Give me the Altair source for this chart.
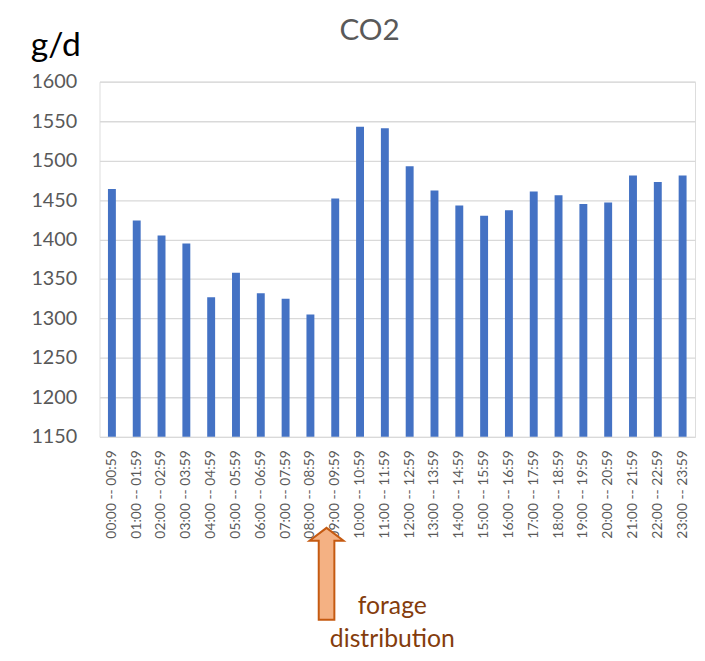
import altair as alt
import pandas as pd

hours = [
    "00:00 -- 00:59", "01:00 -- 01:59", "02:00 -- 02:59", "03:00 -- 03:59",
    "04:00 -- 04:59", "05:00 -- 05:59", "06:00 -- 06:59", "07:00 -- 07:59",
    "08:00 -- 08:59", "09:00 -- 09:59", "10:00 -- 10:59", "11:00 -- 11:59",
    "12:00 -- 12:59", "13:00 -- 13:59", "14:00 -- 14:59", "15:00 -- 15:59",
    "16:00 -- 16:59", "17:00 -- 17:59", "18:00 -- 18:59", "19:00 -- 19:59",
    "20:00 -- 20:59", "21:00 -- 21:59", "22:00 -- 22:59", "23:00 -- 23:59",
]
co2 = [1464, 1424, 1405, 1395, 1327, 1358, 1332, 1325, 1305, 1452, 1543, 1541,
       1493, 1462, 1443, 1430, 1437, 1461, 1456, 1445, 1447, 1481, 1473, 1481]
y_ticks = [1150, 1200, 1250, 1300, 1350, 1400, 1450, 1500, 1550, 1600]

# annotation placed at the 08:59 -> 09:00 boundary (forage distribution)
ann_hour = ["09:00 -- 09:59"]
ann_text = ["forage\ndistribution"]
chart_title = ["CO2"]

df = pd.DataFrame({"hour": hours, "co2": co2})
ann = pd.DataFrame({"hour": ann_hour, "label": ann_text})
ttl = pd.DataFrame({"t": chart_title})

FONT = "Lato"

x_scale = alt.Scale(domain=hours, paddingInner=0, paddingOuter=0)

x_enc = alt.X(
    "hour:N", sort=hours, scale=x_scale,
    axis=alt.Axis(title=None, labelAngle=-90, labelFont=FONT, labelFontSize=14,
                  labelColor="#595959", labelPadding=13, ticks=False,
                  domain=False, grid=False, labelOverlap=False),
)
y_enc = alt.Y(
    "co2:Q", scale=alt.Scale(domain=[1150, 1600], nice=False, zero=False),
    axis=alt.Axis(values=y_ticks, format="d", title="g/d", titleAngle=0,
                  titleAlign="left", titleBaseline="alphabetic", titleX=-70,
                  titleY=-26, titleFont=FONT, titleFontSize=34,
                  titleColor="#000000", titleFontWeight="normal",
                  labelFont=FONT, labelFontSize=20, labelColor="#595959",
                  labelPadding=23, ticks=False, domain=False,
                  gridColor="#D9D9D9", gridWidth=1.3),
)

bars = alt.Chart(df).mark_bar(width=8, color="#4472C4", clip=True).encode(
    x=x_enc, y=y_enc
)

ARROW = "M 0 -1 L 0.37 -0.72 L 0.17 -0.72 L 0.17 1 L -0.17 1 L -0.17 -0.72 L -0.37 -0.72 Z"

arrow = alt.Chart(ann).mark_point(
    shape=ARROW, size=8649, filled=True, fill="#F4B183", stroke="#C55A11",
    strokeWidth=2, opacity=1,
).encode(
    x=alt.X("hour:N", sort=hours, bandPosition=0.15),
    y=alt.value(497.5),
)

note = alt.Chart(ann).mark_text(
    font=FONT, fontSize=25, color="#843C0C", lineBreak="\n", lineHeight=33,
    align="center", baseline="alphabetic", dx=66.5,
).encode(
    x=alt.X("hour:N", sort=hours, bandPosition=0.15),
    y=alt.value(538),
    text="label:N",
)

title = alt.Chart(ttl).mark_text(
    font=FONT, fontSize=30, color="#595959", align="center",
    baseline="alphabetic",
).encode(x=alt.value(273), y=alt.value(-42), text="t:N")

chart = alt.layer(bars, arrow, note, title).properties(
    width=602, height=359,
    autosize=alt.AutoSizeParams(type="none"),
    padding={"left": 92.5, "top": 71, "right": 2, "bottom": 214},
).configure_view(stroke=None).configure(background="white")

chart.save("out.html", embed_options={"renderer": "svg", "actions": False})
